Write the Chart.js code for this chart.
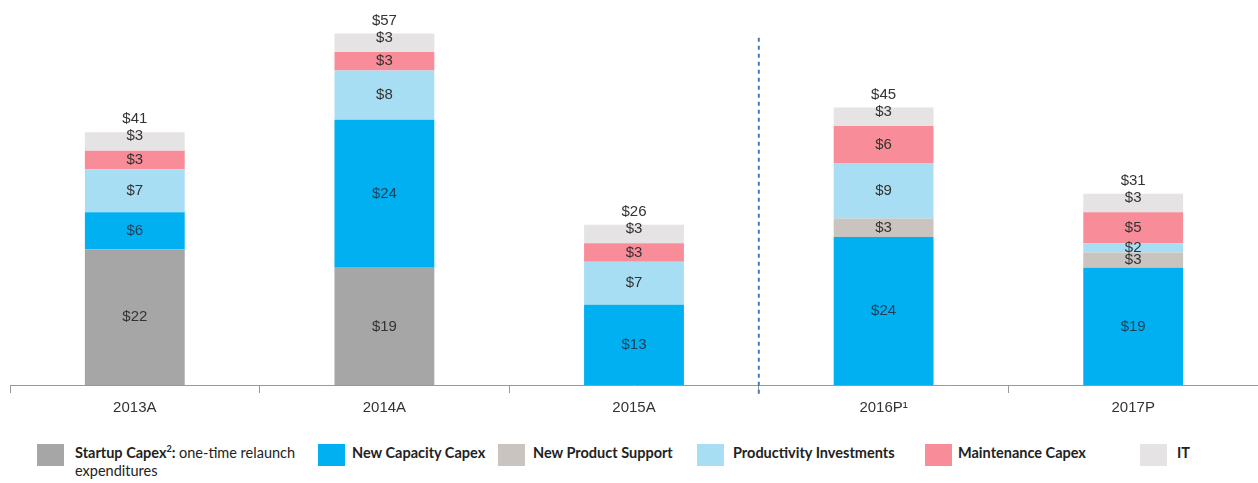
<!DOCTYPE html>
<html>
<head>
<meta charset="utf-8">
<script src="https://cdn.jsdelivr.net/npm/chart.js@4/dist/chart.umd.min.js"></script>
<style>
  body { margin: 0; background: #fff; font-family: "Liberation Sans", Arial, sans-serif; }
  #wrap { position: relative; width: 1258px; height: 483px; }
  #chartBox { position: absolute; left: 0; top: 0; width: 1258px; height: 423px; }
  .legend-item { position: absolute; top: 444px; }
  .legend-box { position: absolute; top: 0; width: 27px; height: 22px; }
  .legend-text { position: absolute; top: 0px; font-family: Lato, "Open Sans", sans-serif; font-size: 14.5px; font-weight: bold; color: #222; white-space: nowrap; line-height: 18px; }
  .legend-text .light { font-weight: normal; }
  .legend-text sup { font-size: 9px; line-height: 0; }
</style>
</head>
<body>
<div id="wrap">
  <div id="chartBox"><canvas id="chart"></canvas></div>
  <div id="legend"></div>
</div>
<script>
// data
const categories = ['2013A', '2014A', '2015A', '2016P\u00B9', '2017P'];
const startupCapex = [22, 19, 0, 0, 0];
const newCapacityCapex = [6, 24, 13, 24, 19];
const newProductSupport = [0, 0, 0, 3, 2.5];
const productivityInvestments = [7, 8, 7, 9, 1.5];
const maintenanceCapex = [3, 3, 3, 6, 5];
const itSpend = [3, 3, 3, 3, 3];
const totals = [41, 57, 26, 45, 31];

const seriesNames = ['Startup Capex', 'New Capacity Capex', 'New Product Support', 'Productivity Investments', 'Maintenance Capex', 'IT'];
const seriesColors = ['#a6a6a6', '#00b0f0', '#c9c4bf', '#a8def3', '#f98c99', '#e6e3e5'];
const seriesValues = [startupCapex, newCapacityCapex, newProductSupport, productivityInvestments, maintenanceCapex, itSpend];

// segment labels, totals and the dashed divider
const labelPlugin = {
    id: 'labels',
    afterDatasetsDraw(chart) {
        const ctx = chart.ctx;
        ctx.save();
        ctx.font = '15px "Liberation Sans", Arial, sans-serif';
        ctx.textAlign = 'center';
        ctx.textBaseline = 'middle';
        chart.data.datasets.forEach((ds, i) => {
            const meta = chart.getDatasetMeta(i);
            meta.data.forEach((bar, j) => {
                const v = ds.data[j];
                if (!v) return;
                const top = Math.min(bar.y, bar.base);
                const bottom = Math.max(bar.y, bar.base);
                let y = (top + bottom) / 2;
                if (i === 5) y = top + 4;
                ctx.fillStyle = i === 1 ? '#1e3f58' : '#333';
                ctx.fillText('$' + Math.round(v), bar.x, y);
            });
        });
        const last = chart.getDatasetMeta(5);
        last.data.forEach((bar, j) => {
            ctx.fillStyle = '#333';
            ctx.fillText('$' + totals[j], bar.x, Math.min(bar.y, bar.base) - 13);
        });

        const x = chart.scales.x;
        const y = chart.scales.y;
        const xd = (x.getPixelForValue(2) + x.getPixelForValue(3)) / 2;
        ctx.strokeStyle = '#3f7fb5';
        ctx.lineWidth = 2;
        ctx.setLineDash([4, 4]);
        ctx.beginPath();
        ctx.moveTo(xd, y.getPixelForValue(56.3));
        ctx.lineTo(xd, chart.chartArea.bottom + 12);
        ctx.stroke();
        ctx.restore();
    }
};

const datasets = seriesNames.map((name, i) => ({
    label: name,
    data: seriesValues[i],
    backgroundColor: seriesColors[i],
    borderWidth: 0,
    barPercentage: 0.4,
    categoryPercentage: 1.0
}));

new Chart(document.getElementById('chart'), {
    type: 'bar',
    data: { labels: categories, datasets: datasets },
    plugins: [labelPlugin],
    options: {
        responsive: true,
        maintainAspectRatio: false,
        animation: false,
        layout: { padding: { left: 10, right: 0, top: 15, bottom: 0 } },
        plugins: { legend: { display: false }, tooltip: { enabled: false } },
        scales: {
            x: {
                stacked: true,
                grid: { display: true, drawOnChartArea: false, drawTicks: true, tickLength: 8, color: '#999', offset: true },
                border: { display: true, color: '#999', width: 1 },
                ticks: { color: '#333', font: { size: 15, family: '"Liberation Sans", Arial, sans-serif' }, padding: 6 }
            },
            y: {
                stacked: true,
                display: false,
                min: 0,
                max: 60
            }
        }
    }
});

// legend
const legendPos = [[37, 75], [318, 352], [498, 533], [697, 733], [925, 958], [1140, 1177]];
const legendHtml = [
    'Startup Capex<sup>2</sup>: <span class="light">one-time relaunch<br>expenditures</span>',
    'New Capacity Capex', 'New Product Support', 'Productivity Investments', 'Maintenance Capex', 'IT'
];
const legend = document.getElementById('legend');
seriesNames.forEach((name, i) => {
    const item = document.createElement('div');
    item.className = 'legend-item';
    item.style.left = legendPos[i][0] + 'px';
    item.innerHTML = '<div class="legend-box" style="background:' + seriesColors[i] + '"></div>' +
        '<div class="legend-text" style="left:' + (legendPos[i][1] - legendPos[i][0]) + 'px">' + legendHtml[i] + '</div>';
    legend.appendChild(item);
});
</script>
</body>
</html>
